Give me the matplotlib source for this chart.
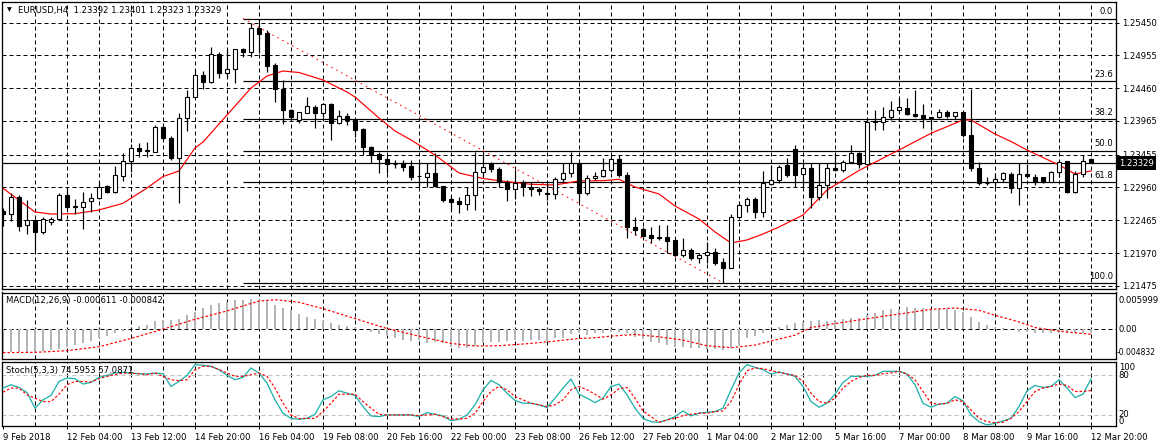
import matplotlib
matplotlib.use('Agg')
import matplotlib.pyplot as plt
import numpy as np
from matplotlib.transforms import blended_transform_factory as blend

plt.rcParams['font.family'] = ['DejaVu Sans']
plt.rcParams['lines.scale_dashes'] = False

# ---------------- data ----------------
title_text = 'EURUSD,H4  1.23392 1.23401 1.23323 1.23329'

opens = [1.22605,1.22559,1.22812,1.22389,1.22469,1.22283,1.22439,1.22488,1.22842,1.22670,
         1.22670,1.22751,1.22797,1.22983,1.22887,1.23138,1.23365,1.23552,1.23526,1.23501,
         1.23879,1.23703,1.23401,1.24005,1.24332,1.24660,1.24559,1.24977,1.24695,1.24746,
         1.25048,1.25003,1.25365,1.25290,1.24811,1.24444,1.24131,1.23980,1.24090,1.24181,
         1.24090,1.24222,1.23939,1.24045,1.23990,1.23839,1.23576,1.23466,1.23386,1.23315,
         1.23335,1.23285,1.23138,1.23123,1.23174,1.22987,1.22782,1.22756,1.22706,1.22847,
         1.23190,1.23310,1.23239,1.23038,1.22933,1.23023,1.22972,1.22942,1.22881,1.22862,
         1.23084,1.23174,1.23326,1.22872,1.23099,1.23134,1.23224,1.23386,1.23149,1.22368,
         1.22328,1.22242,1.22201,1.22207,1.22167,1.21940,1.22015,1.21890,1.21940,1.21981,
         1.21830,1.21739,1.22519,1.22695,1.22782,1.22594,1.23013,1.23073,1.23300,1.23537,
         1.23164,1.23250,1.22821,1.22998,1.23250,1.23224,1.23350,1.23477,1.23315,1.23965,
         1.23954,1.24030,1.24131,1.24157,1.24070,1.24055,1.24030,1.24021,1.24096,1.24045,
         1.24096,1.23753,1.23250,1.23023,1.23048,1.23084,1.23164,1.22948,1.23164,1.23114,
         1.23114,1.23048,1.23199,1.23365,1.22896,1.23164,1.23392]
highs = [1.22650,1.22872,1.22847,1.22771,1.22484,1.22519,1.22519,1.22872,1.22948,1.22786,
         1.22896,1.22872,1.23048,1.22998,1.23285,1.23486,1.23617,1.23632,1.23652,1.23904,
         1.23930,1.23738,1.24081,1.24433,1.24735,1.24725,1.25087,1.25012,1.25037,1.25055,
         1.25063,1.25441,1.25513,1.25340,1.24837,1.24584,1.24146,1.24096,1.24323,1.24206,
         1.24232,1.24232,1.24131,1.24081,1.23990,1.23859,1.23587,1.23496,1.23451,1.23375,
         1.23375,1.23375,1.23326,1.23326,1.23477,1.22987,1.22847,1.22821,1.22972,1.23501,
         1.23501,1.23350,1.23274,1.23073,1.23224,1.23073,1.23048,1.22972,1.23023,1.23123,
         1.23326,1.23501,1.23350,1.23149,1.23199,1.23401,1.23451,1.23451,1.23190,1.22519,
         1.22359,1.22359,1.22393,1.22393,1.22180,1.22192,1.22045,1.21966,1.22140,1.22040,
         1.21890,1.22559,1.22710,1.22821,1.22821,1.23214,1.23300,1.23300,1.23401,1.23602,
         1.23326,1.23326,1.23326,1.23326,1.23477,1.23375,1.23602,1.23490,1.24005,1.24131,
         1.24181,1.24267,1.24308,1.24308,1.24433,1.24222,1.24030,1.24142,1.24131,1.24105,
         1.24105,1.24444,1.23350,1.23123,1.23174,1.23199,1.23199,1.23326,1.23315,1.23164,
         1.23123,1.23210,1.23375,1.23365,1.23214,1.23451,1.23401]
lows = [1.22378,1.22454,1.22307,1.22253,1.22005,1.22262,1.22393,1.22488,1.22635,1.22559,
        1.22328,1.22594,1.22786,1.22872,1.22877,1.23063,1.23190,1.23425,1.23425,1.23496,
        1.23678,1.23375,1.22730,1.23818,1.24323,1.24444,1.24543,1.24619,1.24610,1.24543,
        1.24927,1.24936,1.24988,1.24710,1.24256,1.23919,1.24005,1.23939,1.24090,1.23854,
        1.24030,1.23678,1.23919,1.23904,1.23727,1.23451,1.23326,1.23174,1.23183,1.23250,
        1.23214,1.23073,1.22972,1.22972,1.22972,1.22745,1.22620,1.22570,1.22620,1.22620,
        1.23123,1.23199,1.22972,1.22756,1.22782,1.22831,1.22831,1.22847,1.22771,1.22782,
        1.23048,1.23123,1.22721,1.22847,1.23073,1.23123,1.23199,1.23123,1.22192,1.22242,
        1.22216,1.22117,1.22167,1.21966,1.21925,1.21915,1.21870,1.21815,1.21815,1.21790,
        1.21520,1.21739,1.22500,1.22594,1.22495,1.22519,1.22998,1.23023,1.23123,1.22972,
        1.22972,1.22646,1.22771,1.22797,1.23214,1.23199,1.23326,1.23250,1.23300,1.23829,
        1.23829,1.23980,1.24081,1.24055,1.24030,1.23854,1.23829,1.24005,1.24005,1.23995,
        1.23723,1.23214,1.22998,1.22998,1.22948,1.23048,1.22872,1.22695,1.23099,1.22998,
        1.23033,1.23048,1.23123,1.22872,1.22881,1.23123,1.23323]
closes = [1.22552,1.22812,1.22383,1.22464,1.22283,1.22488,1.22488,1.22842,1.22670,1.22673,
          1.22745,1.22797,1.22972,1.22887,1.23149,1.23365,1.23552,1.23516,1.23516,1.23879,
          1.23703,1.23401,1.24005,1.24332,1.24660,1.24559,1.24977,1.24695,1.24750,1.25048,
          1.25003,1.25365,1.25275,1.24800,1.24444,1.24131,1.24021,1.24096,1.24191,1.24090,
          1.24217,1.23939,1.24045,1.23980,1.23829,1.23576,1.23451,1.23386,1.23315,1.23310,
          1.23274,1.23123,1.23138,1.23174,1.22987,1.22771,1.22745,1.22706,1.22847,1.23190,
          1.23274,1.23235,1.23048,1.22937,1.23023,1.22972,1.22937,1.22912,1.22862,1.23084,
          1.23174,1.23326,1.22872,1.23099,1.23134,1.23224,1.23386,1.23149,1.22368,1.22318,
          1.22232,1.22201,1.22207,1.22156,1.21940,1.22015,1.21890,1.21940,1.21980,1.21815,
          1.21739,1.22519,1.22695,1.22782,1.22594,1.23023,1.23073,1.23274,1.23149,1.23149,
          1.23250,1.22821,1.22998,1.23250,1.23224,1.23350,1.23477,1.23315,1.23945,1.23945,
          1.24030,1.24131,1.24172,1.24066,1.24045,1.24005,1.24005,1.24096,1.24045,1.24096,
          1.23753,1.23250,1.23023,1.23023,1.23084,1.23174,1.22948,1.23164,1.23134,1.23048,
          1.23048,1.23199,1.23350,1.22896,1.23164,1.23365,1.23329]

ma_idx = [0,4,6,9,12,15,18,20,22,24,25,29,31,33,35,37,40,43,44,47,49,51,54,57,60,63,66,69,72,75,
          77,79,82,84,87,89,91,93,95,97,100,103,107,111,112,116,120,121,124,126,128,132,134,136]
ma_val = [1.22948,1.22590,1.22559,1.22564,1.22620,1.22721,1.22952,1.23126,1.23209,1.23557,
          1.23647,1.24191,1.24463,1.24645,1.24720,1.24698,1.24584,1.24403,1.24327,1.24010,
          1.23814,1.23678,1.23451,1.23179,1.23096,1.23048,1.23008,1.22998,1.23058,1.23063,
          1.23084,1.22967,1.22862,1.22680,1.22484,1.22288,1.22121,1.22167,1.22257,1.22363,
          1.22544,1.22922,1.23217,1.23466,1.23526,1.23779,1.23980,1.23980,1.23768,1.23655,
          1.23526,1.23300,1.23164,1.23209]

price_ticks = [1.25450,1.24955,1.24460,1.23965,1.23455,1.22960,1.22465,1.21970,1.21475]
last_price = 1.23329

fib_start, fib_end = 30, 90
fib_high, fib_low = 1.25513, 1.21520
fib_ratios = [0.0, 23.6, 38.2, 50.0, 61.8, 100.0]

macd_hist = [-0.00379,-0.00379,-0.00379,-0.00379,-0.00368,-0.00357,-0.00341,-0.00325,-0.00298,-0.00260,
             -0.00222,-0.00189,-0.00152,-0.00114,-0.00070,-0.00032,0.00005,0.00049,0.00076,0.00130,
             0.00146,0.00150,0.00173,0.00227,0.00281,0.00352,0.00390,0.00428,0.00444,0.00471,
             0.00482,0.00498,0.00482,0.00460,0.00390,0.00352,0.00309,0.00254,
             0.00200,0.00162,0.00130,0.00103,0.00065,0.00049,0.00016,0.0,-0.00043,-0.00087,
             -0.00114,-0.00152,-0.00179,-0.00195,-0.00179,-0.00233,-0.00206,-0.00233,-0.00287,-0.00314,
             -0.00303,-0.00271,-0.00233,-0.00206,-0.00206,-0.00195,-0.00179,-0.00189,-0.00179,-0.00179,
             -0.00195,-0.00152,-0.00152,-0.00087,-0.00070,-0.00097,
             -0.00070,-0.00070,-0.00043,-0.00043,-0.00070,-0.00125,-0.00168,-0.00206,-0.00233,-0.00260,
             -0.00287,-0.00287,-0.00303,-0.00314,-0.00330,-0.00330,-0.00341,-0.00303,-0.00260,-0.00152,
             -0.00114,-0.00060,0.0,0.00038,0.00076,0.00103,0.00119,0.00130,0.00146,0.00135,
             0.00146,0.00173,0.00184,0.00184,
             0.00230,0.00265,0.00309,0.00336,0.00336,0.00363,0.00352,0.00352,0.00336,0.00336,
             0.00336,0.00319,0.00281,0.00200,0.00119,0.00065,0.00027,0.00011,-0.00003,-0.00043,
             -0.00043,-0.00070,-0.00070,-0.00070,-0.00060,-0.00060,-0.00060,-0.00060,-0.00061]
sig_idx = [0,4,8,12,16,20,24,28,32,34,37,40,44,48,52,56,59,62,66,69,72,74,76,79,82,85,88,91,94,96,
           99,101,104,107,110,113,116,119,122,124,127,129,132,134,136]
sig_val = [-0.00384,-0.00379,-0.00352,-0.00287,-0.00152,0.0,0.00162,0.00298,0.00460,0.00482,
           0.00440,0.00336,0.00173,0.00011,-0.00114,-0.00233,-0.00276,-0.00271,-0.00233,-0.00195,
           -0.00152,-0.00141,-0.00114,-0.00087,-0.00125,-0.00179,-0.00271,-0.00303,-0.00260,-0.00195,
           -0.00097,0.00027,0.00092,0.00150,0.00211,0.00265,0.00325,0.00346,0.00309,0.00227,
           0.00119,0.00027,-0.00032,-0.00060,-0.00084]
macd_max, macd_min = 0.005999, -0.004832

stoch_k = [60.7,65.8,61.7,54.1,30.2,42.9,49.5,70.8,75.9,74.9,66.8,69.3,76.9,80.0,83.6,84.6,83.6,82.5,82.0,83.6,
           82.5,63.2,70.8,80.0,96.3,95.3,93.7,88.6,80.0,73.4,76.9,91.2,83.6,68.3,42.9,22.6,14.9,13.4,
           14.9,21.0,42.9,48.0,56.6,53.1,49.5,32.7,18.5,17.5,20,20,20,20,17.5,23.6,21.0,18.5,11.4,13.4,
           20,35.3,58.1,72.4,65.8,53.1,41.9,37.8,37.8,35.3,31.2,45.4,60.7,74.4,51.5,45.4,38.8,
           45.4,63.2,66.8,50.5,30.2,14.9,9.8,8.8,12.4,17.5,26.1,18.5,22.6,24.1,25.1,30.2,58.1,83.6,96.3,92.2,
           88.6,82.0,85.1,82.0,78.5,63.2,40.3,31.7,37.8,51.5,69.3,78.5,78.5,
           78.5,80,86.1,86.1,86.1,82.0,65.8,37.8,31.7,36.3,37.8,48.0,41.4,20,9.8,4.8,7.3,10.9,14.9,32.7,
           56.6,64.7,61.7,63.2,73.4,60.7,46.4,51.5,74.6]
stoch_d = [54.6,60.7,60.7,50.5,45.4,40.3,40.3,51.5,65.8,70.8,70.8,69.8,74.9,78.5,81.0,83.6,83.1,82.5,81.0,83.6,
           78.5,73.4,71.9,73.4,88.6,93.7,93.7,88.6,83.6,78.5,78.5,81.0,83.6,78.5,60.7,37.8,20.0,14.4,
           14.9,14.9,25.1,37.8,51.5,51.5,51.5,40.3,30.2,21.0,20,20,20,20,19.0,20,21.0,17.5,13.9,13.9,
           14.9,22.6,40.3,55.6,63.2,58.1,48.0,42.9,37.8,35.3,32.7,35.3,42.9,58.1,63.2,58.1,51.5,
           43.9,50.5,59.7,61.7,45.4,26.1,17.5,8.8,12.4,14.9,19.0,21.0,22.6,22.6,25.1,26.1,40.3,65.8,87.1,91.2,
           90.2,87.1,84.6,82.0,80,70.8,53.1,40.3,37.8,45.4,60.7,70.8,76.9,
           80,80,82.5,83.6,86.1,82.0,73.4,55.6,37.8,36.3,37.8,42.9,40.3,27.6,14.9,9.8,8.3,8.8,14.9,25.1,
           40.3,55.6,60.7,63.2,66.8,64.7,55.6,55.6,57.1]
stoch_levels = [20, 80]

time_labels = ['9 Feb 2018','12 Feb 04:00','13 Feb 12:00','14 Feb 20:00','16 Feb 04:00',
               '19 Feb 08:00','20 Feb 16:00','22 Feb 00:00','23 Feb 08:00','26 Feb 12:00',
               '27 Feb 20:00','1 Mar 04:00','2 Mar 12:00','5 Mar 16:00','7 Mar 00:00',
               '8 Mar 08:00','9 Mar 16:00','12 Mar 20:00']
label_step = 8
grid_step = 4

macd_title = 'MACD(12,26,9) -0.000611 -0.000842'
stoch_title = 'Stoch(5,3,3) 74.5953 57.0871'

# ---------------- figure ----------------
W, H = 1158, 448
PX = 0.72  # one pixel in points
FS = 6.1
fig = plt.figure(figsize=(W / 100, H / 100), dpi=100)
fig.patch.set_facecolor('white')


def rect(l, t, r, b):
    return [l / W, 1 - b / H, (r - l) / W, (b - t) / H]


ax = fig.add_axes(rect(2, 2, 1116, 289))
axm = fig.add_axes(rect(2, 292.5, 1116, 358.7))
axs = fig.add_axes(rect(2, 361.5, 1116, 426.3))

n = len(opens)
xs = np.arange(n)
xlim = (-0.125, 139.125)
GRID = (0, (4 * PX, 3 * PX))
DOT = (0, (2.5 * PX, 2 * PX))

for a in (ax, axm, axs):
    a.set_xlim(*xlim)
    for s in a.spines.values():
        s.set_linewidth(PX * 1.3)
        s.set_color('black')
    a.vlines(np.arange(grid_step, n, grid_step), 0, 1, transform=blend(a.transData, a.transAxes),
             colors='black', linewidth=PX, linestyles=GRID, zorder=0)
    a.set_xticks([])
    a.tick_params(axis='y', left=False, labelleft=False)

# ---- main price panel ----
ax.set_ylim(1.21426, 1.25763)
ax.hlines(price_ticks, 0, 1, transform=blend(ax.transAxes, ax.transData),
          colors='black', linewidth=PX, linestyles=GRID, zorder=0)
ax.yaxis.tick_right()
ax.set_yticks(price_ticks)
ax.set_yticklabels([f'{v:.5f}' for v in price_ticks])
ax.tick_params(axis='y', right=True, labelright=True, left=False, labelleft=False,
               length=3 * PX, width=PX, pad=2, labelsize=FS, direction='out')

# fibonacci levels
fib_range = fib_high - fib_low
fib_levels = [fib_high - r / 100 * fib_range for r in fib_ratios]
ax.hlines(fib_levels, fib_start, xlim[1], colors='black', linewidth=PX * 1.2, zorder=1)
for r, lv in zip(fib_ratios, fib_levels):
    ax.annotate(f'{r:.1f}', xy=(0.9975, lv), xycoords=blend(ax.transAxes, ax.transData),
                xytext=(0, 1.6), textcoords='offset points', ha='right', va='bottom', fontsize=FS)
ax.plot([fib_start, fib_end], [fib_high, fib_low], color='red', linewidth=PX,
        linestyle=(0, (1.6 * PX, 4 * PX)), zorder=2)

# current price line
ax.axhline(last_price, color='black', linewidth=PX * 1.2, zorder=1)
ax.annotate(f'{last_price:.5f}', xy=(1.0, last_price), xycoords=blend(ax.transAxes, ax.transData),
            xytext=(2.5, 0), textcoords='offset points', ha='left', va='center', fontsize=FS,
            color='white', annotation_clip=False,
            bbox=dict(boxstyle='square,pad=0.25', fc='black', ec='black', lw=0))

# moving average
ax.plot(ma_idx, ma_val, color='red', linewidth=PX * 1.2, zorder=2)

# candles
o = np.array(opens); c = np.array(closes)
ax.vlines(xs, lows, highs, colors='black', linewidth=PX * 1.2, zorder=3)
bottoms = np.minimum(o, c)
heights = np.abs(c - o)
face = ['white' if cc >= oo else 'black' for oo, cc in zip(o, c)]
ax.bar(xs, heights, bottom=bottoms, width=0.62, color=face, edgecolor='black',
       linewidth=PX * 1.1, zorder=4)

# title
ax.text(0.0045, 0.972, '\u25BC', transform=ax.transAxes, fontsize=4.5, va='center', ha='left')
ax.text(0.0145, 0.971, title_text, transform=ax.transAxes, fontsize=FS, va='center', ha='left')

# ---- MACD panel ----
axm.set_ylim(macd_min, macd_max)
axm.axhline(0, color='black', linewidth=PX, linestyle=GRID, zorder=0)
axm.vlines(xs, 0, macd_hist, colors='#B4B4B4', linewidth=1.5 * PX, zorder=2, antialiased=False)
axm.plot(sig_idx, sig_val, color='red', linewidth=PX * 1.2, linestyle=DOT, zorder=3)
axm.text(0.004, 0.88, macd_title, transform=axm.transAxes, fontsize=FS, va='center', ha='left')
tr_m = blend(axm.transAxes, axm.transData)
for val, txt, dy, dx, fs in [(macd_max, '0.005999', -5.9, 2.0, FS), (0.0, '0.00', 0.0, 2.0, FS),
                             (macd_min, '-0.004832', 4.6, 0.8, 5.5)]:
    axm.annotate(txt, xy=(1.0, val), xycoords=tr_m, xytext=(dx, dy), textcoords='offset points',
                 ha='left', va='center', fontsize=fs, annotation_clip=False)

# ---- Stochastic panel ----
axs.set_ylim(2.8, 101.0)
axs.hlines(stoch_levels, 0, 1, transform=blend(axs.transAxes, axs.transData),
           colors='#C0C0C0', linewidth=PX, linestyles=GRID, zorder=0)
axs.plot(xs, stoch_k, color='#20B2AA', linewidth=PX * 1.3, zorder=3)
axs.plot(xs, stoch_d, color='red', linewidth=PX * 1.2, linestyle=DOT, zorder=3)
axs.text(0.004, 0.86, stoch_title, transform=axs.transAxes, fontsize=FS, va='center', ha='left')
tr_s = blend(axs.transAxes, axs.transData)
for val, dy in [(100, -3.6), (80, -0.4), (20, 0.6), (0, 5.0)]:
    axs.annotate(str(val), xy=(1.0, val), xycoords=tr_s, xytext=(2.0, dy), textcoords='offset points',
                 ha='left', va='center', fontsize=FS, annotation_clip=False)

label_idx = list(range(0, n, label_step))
axs.set_xticks(label_idx)
axs.set_xticklabels(time_labels, ha='left', fontsize=FS)
axs.tick_params(axis='x', bottom=True, length=3 * PX, width=PX, pad=2.5, direction='out')

fig.savefig('out.png', dpi=100, facecolor='white')
